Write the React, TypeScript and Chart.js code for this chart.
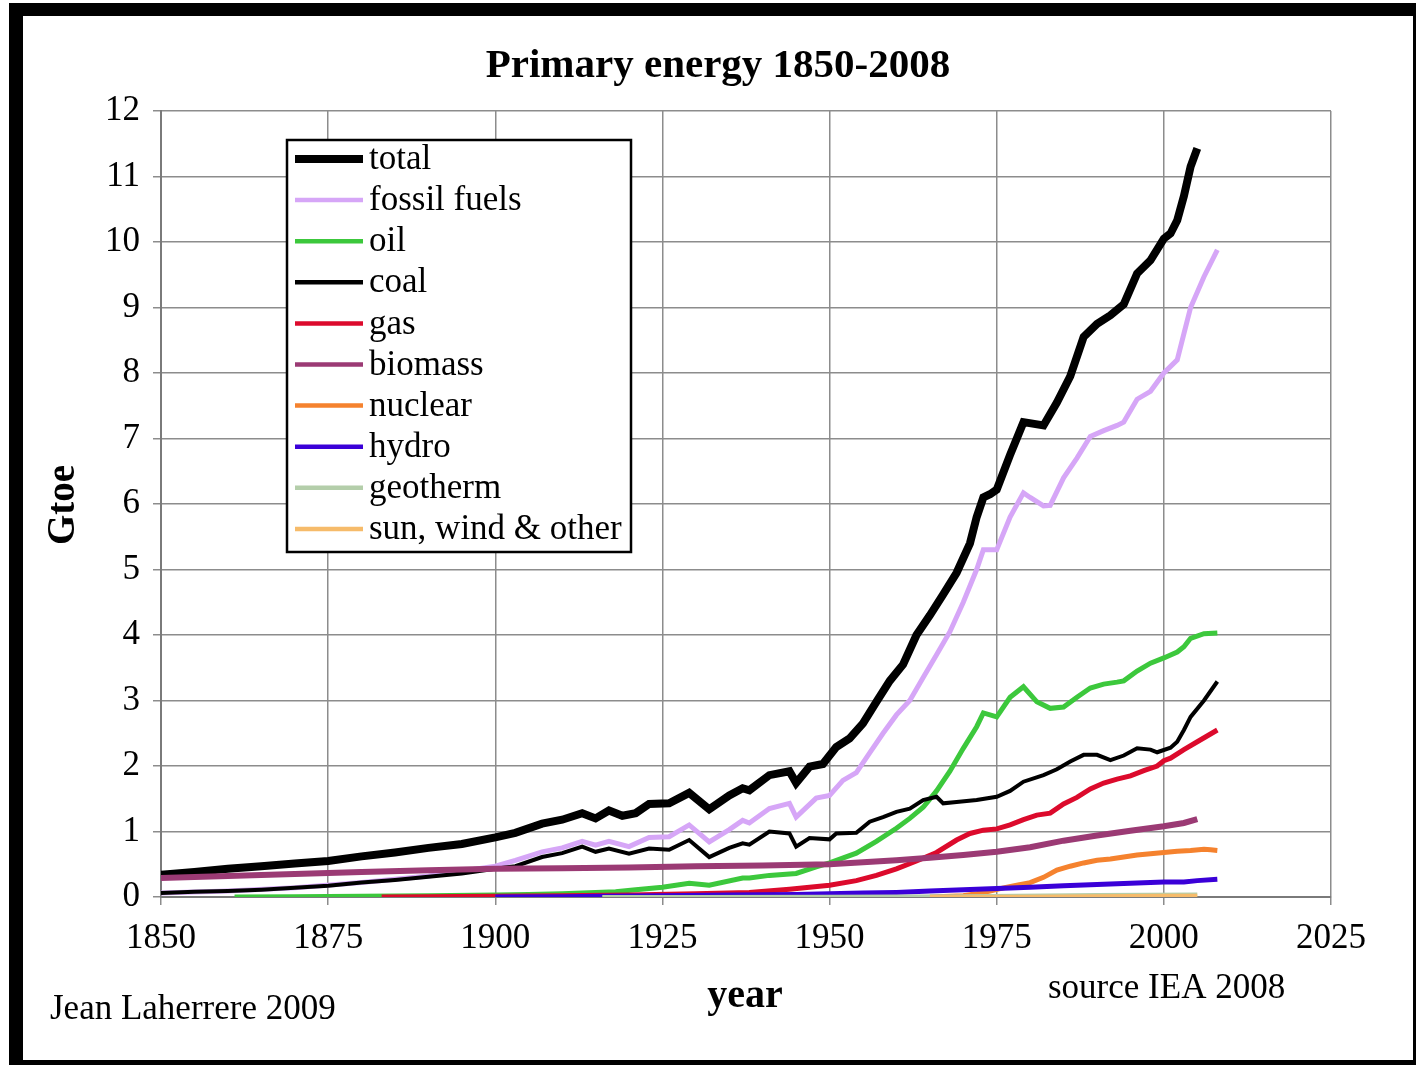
import React, { useEffect, useRef } from "react";
import { Chart, registerables } from "chart.js";

Chart.register(...registerables);

// ---------- data ----------
const xTickValues = [1850, 1875, 1900, 1925, 1950, 1975, 2000, 2025];
const yTickValues = [0, 1, 2, 3, 4, 5, 6, 7, 8, 9, 10, 11, 12];

const totalYears = [1850, 1855, 1860, 1865, 1870, 1875, 1880, 1885, 1890, 1895, 1900, 1903, 1907, 1910, 1913, 1915, 1917, 1919, 1921, 1923, 1926, 1929, 1932, 1935, 1937, 1938, 1941, 1944, 1945, 1947, 1949, 1951, 1953, 1955, 1957, 1959, 1961, 1963, 1965, 1967, 1969, 1971, 1972, 1973, 1974, 1975, 1977, 1979, 1982, 1984, 1986, 1988, 1990, 1992, 1994, 1996, 1998, 2000, 2001, 2002, 2003, 2004, 2005];
const totalValues = [0.34, 0.38, 0.43, 0.47, 0.51, 0.55, 0.62, 0.68, 0.75, 0.81, 0.91, 0.98, 1.12, 1.18, 1.28, 1.2, 1.32, 1.24, 1.28, 1.42, 1.43, 1.59, 1.34, 1.55, 1.66, 1.63, 1.86, 1.92, 1.74, 1.99, 2.03, 2.29, 2.42, 2.65, 2.98, 3.3, 3.55, 4.0, 4.3, 4.62, 4.95, 5.4, 5.8, 6.1, 6.15, 6.22, 6.75, 7.25, 7.2, 7.55, 7.95, 8.55, 8.75, 8.88, 9.05, 9.52, 9.72, 10.05, 10.13, 10.33, 10.7, 11.15, 11.43];

const fossilYears = [1850, 1860, 1870, 1880, 1890, 1900, 1903, 1907, 1910, 1913, 1915, 1917, 1920, 1923, 1926, 1929, 1932, 1935, 1937, 1938, 1941, 1944, 1945, 1948, 1950, 1952, 1954, 1956, 1958, 1960, 1962, 1964, 1966, 1968, 1970, 1972, 1973, 1975, 1977, 1979, 1980, 1982, 1983, 1985, 1987, 1989, 1991, 1993, 1994, 1996, 1998, 2000, 2002, 2003, 2004, 2006, 2008];
const fossilValues = [0.06, 0.09, 0.14, 0.22, 0.32, 0.47, 0.56, 0.69, 0.75, 0.85, 0.79, 0.85, 0.77, 0.91, 0.92, 1.1, 0.84, 1.03, 1.17, 1.13, 1.35, 1.43, 1.22, 1.51, 1.55, 1.78, 1.9, 2.2, 2.5, 2.78, 3.0, 3.35, 3.7, 4.05, 4.5, 5.0, 5.3, 5.3, 5.8, 6.17, 6.1, 5.97, 5.98, 6.4, 6.7, 7.03, 7.12, 7.2, 7.25, 7.6, 7.72, 8.0, 8.2, 8.6, 9.0, 9.47, 9.88];

const oilYears = [1861, 1870, 1880, 1890, 1900, 1905, 1910, 1915, 1918, 1921, 1925, 1929, 1932, 1937, 1938, 1941, 1945, 1948, 1950, 1954, 1957, 1960, 1962, 1964, 1966, 1968, 1970, 1972, 1973, 1975, 1977, 1979, 1981, 1983, 1985, 1987, 1989, 1991, 1993, 1994, 1996, 1998, 2000, 2002, 2003, 2004, 2006, 2008];
const oilValues = [0, 0.005, 0.01, 0.02, 0.03, 0.04, 0.05, 0.07, 0.08, 0.11, 0.15, 0.21, 0.18, 0.29, 0.29, 0.33, 0.36, 0.46, 0.52, 0.67, 0.85, 1.05, 1.2, 1.37, 1.62, 1.92, 2.27, 2.6, 2.81, 2.75, 3.05, 3.21, 2.98, 2.88, 2.9, 3.05, 3.19, 3.25, 3.28, 3.3, 3.45, 3.57, 3.65, 3.74, 3.82, 3.95, 4.02, 4.03];

const coalYears = [1850, 1855, 1860, 1865, 1870, 1875, 1880, 1885, 1890, 1895, 1900, 1903, 1907, 1910, 1913, 1915, 1917, 1920, 1923, 1926, 1929, 1932, 1935, 1937, 1938, 1941, 1944, 1945, 1947, 1950, 1951, 1954, 1956, 1958, 1960, 1962, 1964, 1966, 1967, 1969, 1972, 1975, 1977, 1979, 1982, 1984, 1986, 1988, 1990, 1992, 1994, 1996, 1998, 1999, 2001, 2002, 2003, 2004, 2006, 2008];
const coalValues = [0.06, 0.08, 0.09, 0.11, 0.14, 0.17, 0.22, 0.26, 0.31, 0.36, 0.43, 0.47, 0.61, 0.67, 0.77, 0.69, 0.74, 0.66, 0.74, 0.72, 0.87, 0.61, 0.75, 0.82, 0.8, 1.0, 0.97, 0.77, 0.9, 0.88, 0.97, 0.98, 1.15, 1.22, 1.3, 1.35, 1.48, 1.53, 1.43, 1.45, 1.48, 1.53, 1.62, 1.76, 1.86, 1.95, 2.07, 2.17, 2.17, 2.09, 2.16, 2.27, 2.25, 2.21, 2.28, 2.37, 2.55, 2.75, 3.0, 3.29];

const gasYears = [1883, 1890, 1900, 1910, 1920, 1930, 1938, 1944, 1950, 1954, 1957, 1960, 1963, 1966, 1969, 1971, 1973, 1975, 1977, 1979, 1981, 1983, 1985, 1987, 1989, 1991, 1993, 1995, 1997, 1999, 2000, 2001, 2003, 2005, 2008];
const gasValues = [0, 0.005, 0.01, 0.02, 0.03, 0.05, 0.07, 0.12, 0.18, 0.25, 0.33, 0.43, 0.55, 0.68, 0.87, 0.97, 1.02, 1.04, 1.1, 1.18, 1.25, 1.28, 1.42, 1.52, 1.65, 1.74, 1.8, 1.85, 1.93, 2.0, 2.08, 2.12, 2.25, 2.37, 2.55];

const biomassYears = [1850, 1860, 1870, 1880, 1890, 1900, 1910, 1920, 1930, 1940, 1950, 1955, 1960, 1965, 1970, 1975, 1980, 1985, 1990, 1995, 2000, 2003, 2005];
const biomassValues = [0.29, 0.32, 0.35, 0.38, 0.41, 0.43, 0.44, 0.45, 0.47, 0.48, 0.5, 0.53, 0.56, 0.6, 0.64, 0.69, 0.76, 0.86, 0.94, 1.01, 1.08, 1.13, 1.19];

const nuclearYears = [1965, 1968, 1970, 1972, 1974, 1976, 1978, 1980, 1982, 1984, 1986, 1988, 1990, 1992, 1994, 1996, 1998, 2000, 2002, 2004, 2006, 2007, 2008];
const nuclearValues = [0, 0.01, 0.02, 0.05, 0.09, 0.14, 0.18, 0.22, 0.3, 0.41, 0.47, 0.52, 0.56, 0.58, 0.61, 0.64, 0.66, 0.68, 0.7, 0.71, 0.73, 0.72, 0.71];

const hydroYears = [1900, 1910, 1916, 1925, 1935, 1945, 1950, 1955, 1960, 1965, 1970, 1975, 1980, 1985, 1990, 1995, 2000, 2003, 2005, 2008];
const hydroValues = [0, 0.005, 0.01, 0.02, 0.03, 0.04, 0.05, 0.06, 0.07, 0.09, 0.11, 0.13, 0.15, 0.17, 0.19, 0.21, 0.23, 0.23, 0.25, 0.27];

const geothermYears = [1916, 1930, 1950, 1970, 1990, 2005];
const geothermValues = [0, 0.001, 0.003, 0.01, 0.03, 0.04];

const sunYears = [1965, 1980, 1990, 2000, 2005];
const sunValues = [0, 0.005, 0.01, 0.02, 0.02];

const seriesLabels = ["total", "fossil fuels", "oil", "coal", "gas", "biomass", "nuclear", "hydro", "geotherm", "sun, wind & other"];
const seriesColors = ["#000000", "#d6a6f7", "#3cc83c", "#000000", "#dc0a2c", "#9b3a74", "#f5822e", "#3a00d8", "#b4ceaa", "#f6bb6a"];
const seriesWidths = [8, 5, 5, 4, 5, 6, 5, 5, 4, 4];
const seriesYears = [totalYears, fossilYears, oilYears, coalYears, gasYears, biomassYears, nuclearYears, hydroYears, geothermYears, sunYears];
const seriesValues = [totalValues, fossilValues, oilValues, coalValues, gasValues, biomassValues, nuclearValues, hydroValues, geothermValues, sunValues];

const titleText = "Primary energy 1850-2008";
const yTitleText = "Gtoe";
const xTitleText = "year";
const authorText = "Jean Laherrere 2009";
const sourceText = "source IEA 2008";

const SERIF = '"Liberation Serif", "Times New Roman", serif';
const GRID = "#8c8c8c";

const W = 1416;
const H = 1065;

const decorPlugin = {
  id: "decor",
  afterDraw(chart: any) {
    const ctx = chart.ctx as CanvasRenderingContext2D;
    ctx.save();
    ctx.fillStyle = "#000";
    // title
    ctx.font = `bold 41px ${SERIF}`;
    ctx.textAlign = "center";
    ctx.textBaseline = "alphabetic";
    ctx.fillText(titleText, 718, 77);
    // x title
    ctx.font = `bold 40px ${SERIF}`;
    ctx.fillText(xTitleText, 745, 1007);
    // y title
    ctx.save();
    ctx.translate(64, 505);
    ctx.rotate(-Math.PI / 2);
    ctx.font = `bold 39px ${SERIF}`;
    ctx.textBaseline = "middle";
    ctx.fillText(yTitleText, 0, 0);
    ctx.restore();
    // notes
    ctx.font = `35px ${SERIF}`;
    ctx.textAlign = "left";
    ctx.fillText(authorText, 50, 1019);
    ctx.fillText(sourceText, 1048, 998);

    // legend
    const lx = 287, ly = 140, lw = 344, lh = 412;
    ctx.fillStyle = "#fff";
    ctx.fillRect(lx, ly, lw, lh);
    ctx.strokeStyle = "#000";
    ctx.lineWidth = 2.5;
    ctx.strokeRect(lx, ly, lw, lh);
    chart.data.datasets.forEach((ds: any, i: number) => {
      const y = 159 + i * 41.1;
      ctx.beginPath();
      ctx.strokeStyle = ds.borderColor;
      ctx.lineWidth = i === 0 ? 8 : 4.5;
      ctx.moveTo(295, y);
      ctx.lineTo(363, y);
      ctx.stroke();
      ctx.fillStyle = "#000";
      ctx.font = `35px ${SERIF}`;
      ctx.textAlign = "left";
      ctx.textBaseline = "middle";
      ctx.fillText(ds.label, 369, y + 1);
    });

    // outer frame
    ctx.fillStyle = "#000";
    ctx.fillRect(9, 3, W - 9, 13);
    ctx.fillRect(9, 3, 14, H - 3);
    ctx.fillRect(W - 3, 3, 3, H - 3);
    ctx.fillRect(9, H - 5, W - 9, 5);
    ctx.restore();
  },
};

export default function App() {
  const ref = useRef<HTMLCanvasElement | null>(null);

  useEffect(() => {
    if (!ref.current) return;
    const datasets = seriesLabels.map((label, i) => ({
      label,
      data: seriesYears[i].map((x, j) => ({ x, y: seriesValues[i][j] })),
      borderColor: seriesColors[i],
      backgroundColor: seriesColors[i],
      borderWidth: seriesWidths[i],
      pointRadius: 0,
      tension: 0,
      fill: false,
      order: 20 - i,
    }));
    const chart = new Chart(ref.current, {
      type: "line",
      data: { datasets },
      options: {
        animation: false,
        responsive: false,
        maintainAspectRatio: false,
        devicePixelRatio: 1,
        layout: { padding: { left: 61, top: 111, right: 85, bottom: 108 } },
        plugins: { legend: { display: false }, tooltip: { enabled: false }, title: { display: false } },
        scales: {
          x: {
            type: "linear",
            min: 1850,
            max: 2025,
            afterBuildTicks: (scale: any) => {
              scale.ticks = xTickValues.map((v) => ({ value: v }));
            },
            afterFit: (scale: any) => {
              scale.height = 60;
            },
            ticks: {
              color: "#000",
              font: { family: SERIF, size: 35 },
              padding: 13,
              maxRotation: 0,
              autoSkip: false,
              callback: (v: any) => String(v),
            },
            grid: { color: GRID, lineWidth: 1.5, tickLength: 8, drawTicks: true },
            border: { color: "#7a7a7a", width: 2 },
          },
          y: {
            type: "linear",
            min: 0,
            max: 12,
            afterBuildTicks: (scale: any) => {
              scale.ticks = yTickValues.map((v) => ({ value: v }));
            },
            afterFit: (scale: any) => {
              scale.width = 100;
            },
            ticks: {
              color: "#000",
              font: { family: SERIF, size: 35 },
              padding: 13,
              autoSkip: false,
              callback: (v: any) => String(v),
            },
            grid: { color: GRID, lineWidth: 1.5, tickLength: 8, drawTicks: true },
            border: { color: "#7a7a7a", width: 2 },
          },
        },
      },
      plugins: [decorPlugin],
    });
    return () => chart.destroy();
  }, []);

  return (
    <div style={{ position: "absolute", left: 0, top: 0, width: W, height: H, background: "#fff" }}>
      <canvas ref={ref} width={W} height={H} style={{ width: W, height: H, display: "block" }} />
    </div>
  );
}
